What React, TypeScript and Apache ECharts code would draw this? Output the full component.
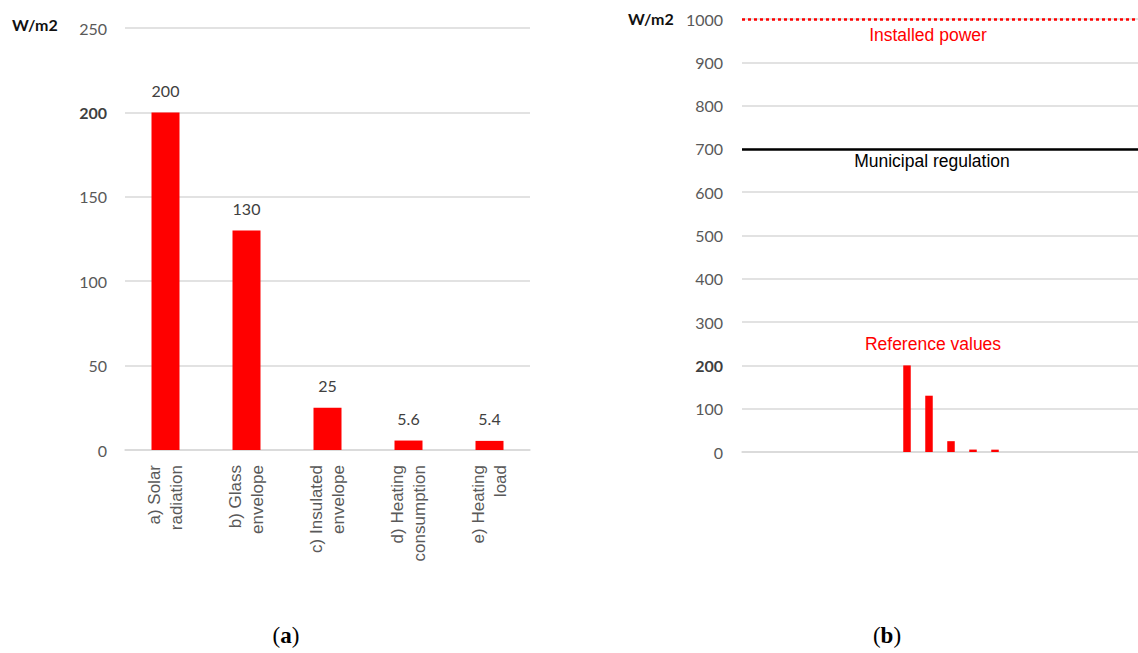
import React, { useEffect, useRef } from "react";
import * as echarts from "echarts";

const categories = [
  "a) Solar\nradiation",
  "b) Glass\nenvelope",
  "c) Insulated\nenvelope",
  "d) Heating\nconsumption",
  "e) Heating\nload",
];
const values = [200, 130, 25, 5.6, 5.4];
const leftTicks = [0, 50, 100, 150, 200, 250];

// right panel: 18 slots on the horizontal axis, reference bars in slots 8–12
const rightSlots = ["", "", "", "", "", "", "", "", "", "", "", "", "", "", "", "", "", ""];
const rightValues = [null, null, null, null, null, null, null, 200, 130, 25, 5.6, 5.4, null, null, null, null, null, null];
const installedPower = 1000;
const municipalRegulation = 700;

const TICK = "#595959";
const GRID = "#d9d9d9";
const NUM_FONT = "Lato";
const SANS = "Liberation Sans";

export default function App() {
  const ref = useRef<HTMLDivElement>(null);
  useEffect(() => {
    if (!ref.current) return;
    const chart = echarts.init(ref.current, null, { renderer: "svg" });
    const yLabel = (v: number) => (v === 200 ? "{b|200}" : String(v));
    const axisLabelY = {
      color: TICK,
      fontFamily: NUM_FONT,
      fontSize: 16,
      formatter: yLabel,
      rich: { b: { color: "#3f3f3f", fontWeight: "bold", fontFamily: NUM_FONT, fontSize: 16 } },
    };
    chart.setOption({
      animation: false,
      backgroundColor: "#ffffff",
      grid: [
        { left: 125, top: 28, width: 405, height: 422 },
        { left: 742, top: 19, width: 396, height: 433 },
      ],
      xAxis: [
        {
          gridIndex: 0,
          type: "category",
          data: categories,
          axisTick: { show: false },
          axisLine: { show: true, lineStyle: { color: GRID, width: 1.5 } },
          axisLabel: {
            rotate: 90,
            margin: 15,
            color: TICK,
            fontFamily: SANS,
            fontSize: 17,
            lineHeight: 22,
            interval: 0,
          },
        },
        {
          gridIndex: 1,
          type: "category",
          data: rightSlots,
          axisTick: { show: false },
          axisLine: { show: true, lineStyle: { color: GRID, width: 1.5 } },
          axisLabel: { show: false },
        },
      ],
      yAxis: [
        {
          gridIndex: 0,
          type: "value",
          min: leftTicks[0],
          max: leftTicks[leftTicks.length - 1],
          interval: 50,
          axisLine: { show: false },
          axisTick: { show: false },
          splitLine: { lineStyle: { color: GRID, width: 1.5 } },
          axisLabel: { ...axisLabelY, margin: 18 },
        },
        {
          gridIndex: 1,
          type: "value",
          min: 0,
          max: 1000,
          interval: 100,
          axisLine: { show: false },
          axisTick: { show: false },
          splitLine: { lineStyle: { color: GRID, width: 1.5 } },
          axisLabel: { ...axisLabelY, margin: 19 },
        },
      ],
      series: [
        {
          type: "bar",
          xAxisIndex: 0,
          yAxisIndex: 0,
          data: values,
          barWidth: 28,
          itemStyle: { color: "#ff0000" },
          label: {
            show: true,
            position: "top",
            distance: 14,
            color: "#404040",
            fontFamily: NUM_FONT,
            fontSize: 16,
          },
        },
        {
          type: "bar",
          xAxisIndex: 1,
          yAxisIndex: 1,
          data: rightValues,
          barWidth: 7.5,
          itemStyle: { color: "#ff0000" },
          markLine: {
            silent: true,
            symbol: "none",
            label: { show: false },
            data: [
              { yAxis: installedPower, lineStyle: { color: "#ff0000", type: [3, 3], width: 2.5 } },
              { yAxis: municipalRegulation, lineStyle: { color: "#000000", type: "solid", width: 2.5 } },
            ],
          },
        },
      ],
      graphic: [
        {
          type: "text",
          left: 12,
          top: 16,
          style: { text: "W/m2", fontFamily: NUM_FONT, fontWeight: "bold", fontSize: 16, fill: "#111" },
        },
        {
          type: "text",
          left: 628,
          top: 10,
          style: { text: "W/m2", fontFamily: NUM_FONT, fontWeight: "bold", fontSize: 16, fill: "#111" },
        },
        {
          type: "text",
          x: 928,
          y: 35,
          style: {
            text: "Installed power",
            fontFamily: SANS,
            fontSize: 17.5,
            fill: "#ff0000",
            align: "center",
            verticalAlign: "middle",
          },
        },
        {
          type: "text",
          x: 932,
          y: 161,
          style: {
            text: "Municipal regulation",
            fontFamily: SANS,
            fontSize: 17.5,
            fill: "#000000",
            align: "center",
            verticalAlign: "middle",
          },
        },
        {
          type: "text",
          x: 933,
          y: 344,
          style: {
            text: "Reference values",
            fontFamily: SANS,
            fontSize: 17.5,
            fill: "#ff0000",
            align: "center",
            verticalAlign: "middle",
          },
        },
        {
          type: "text",
          x: 286,
          y: 635,
          style: {
            text: "({b|a})",
            fontFamily: "Liberation Serif",
            fontSize: 23,
            fill: "#000",
            align: "center",
            verticalAlign: "middle",
            rich: { b: { fontFamily: "Liberation Serif", fontSize: 23, fontWeight: "bold", fill: "#000" } },
          },
        },
        {
          type: "text",
          x: 887,
          y: 635,
          style: {
            text: "({b|b})",
            fontFamily: "Liberation Serif",
            fontSize: 23,
            fill: "#000",
            align: "center",
            verticalAlign: "middle",
            rich: { b: { fontFamily: "Liberation Serif", fontSize: 23, fontWeight: "bold", fill: "#000" } },
          },
        },
      ],
    });
    return () => chart.dispose();
  }, []);
  return (
    <div
      ref={ref}
      style={{ position: "absolute", left: 0, top: 0, width: 1138, height: 653 }}
    />
  );
}
